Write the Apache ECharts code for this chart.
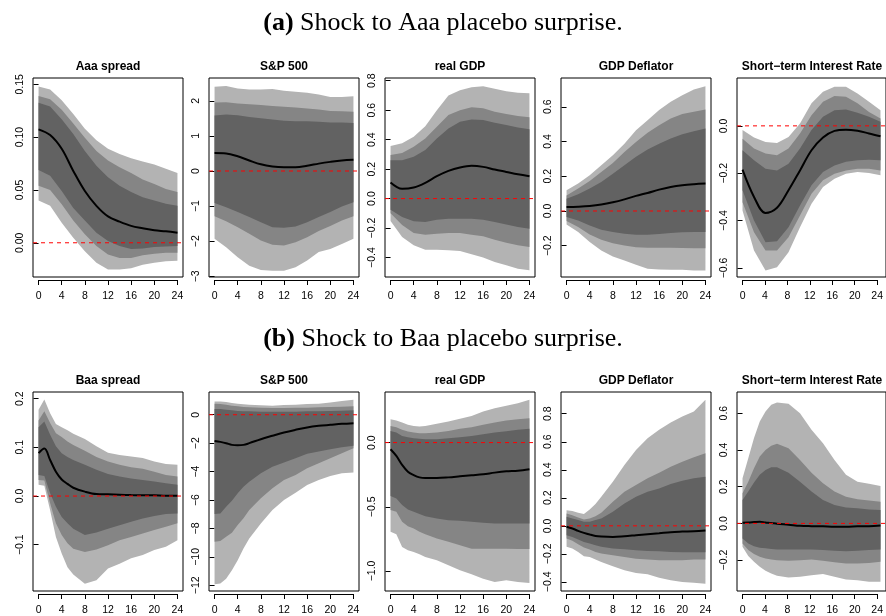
<!DOCTYPE html>
<html>
<head>
<meta charset="utf-8">
<script src="https://cdn.jsdelivr.net/npm/echarts@6/dist/echarts.min.js"></script>
<style>
  html, body { margin: 0; padding: 0; background: #fff; }
  #chart { width: 886px; height: 616px; }
</style>
</head>
<body>
<div id="chart"></div>
<script>
// horizons (quarters after the shock)
const horizonsA = [0, 2, 4, 6, 8, 10, 12, 14, 16, 18, 20, 22, 24];
const horizonsB = [0, 1, 2, 3, 4, 5, 6, 8, 10, 12, 14, 16, 18, 20, 22, 24];

// (a) Aaa spread
const aaaLightHi = [0.148, 0.145, 0.135, 0.122, 0.108, 0.097, 0.089, 0.084, 0.080, 0.077, 0.074, 0.070, 0.066];
const aaaMidHi = [0.139, 0.136, 0.126, 0.113, 0.0995, 0.087, 0.078, 0.0715, 0.066, 0.060, 0.0556, 0.051, 0.048];
const aaaDarkHi = [0.1325, 0.129, 0.117, 0.103, 0.087, 0.073, 0.062, 0.054, 0.048, 0.043, 0.040, 0.037, 0.035];
const aaaMedian = [0.1074, 0.102, 0.089, 0.068, 0.049, 0.035, 0.025, 0.020, 0.016, 0.0137, 0.0118, 0.0108, 0.0095];
const aaaDarkLo = [0.069, 0.0635, 0.049, 0.033, 0.021, 0.0095, 0.0016, -0.003, -0.006, -0.0054, -0.004, -0.0035, -0.003];
const aaaMidLo = [0.054, 0.050, 0.0365, 0.021, 0.008, -0.003, -0.011, -0.0143, -0.0143, -0.0118, -0.0105, -0.0095, -0.0095];
const aaaLightLo = [0.040, 0.035, 0.019, 0.0048, -0.008, -0.019, -0.0254, -0.0254, -0.024, -0.0207, -0.019, -0.0175, -0.017];

// (a) S&P 500
const spxALightHi = [2.40, 2.42, 2.35, 2.32, 2.32, 2.34, 2.29, 2.26, 2.23, 2.18, 2.11, 2.11, 2.13];
const spxAMidHi = [1.95, 1.96, 1.92, 1.90, 1.88, 1.85, 1.83, 1.81, 1.78, 1.75, 1.71, 1.70, 1.69];
const spxADarkHi = [1.58, 1.61, 1.59, 1.54, 1.50, 1.47, 1.43, 1.42, 1.42, 1.40, 1.38, 1.38, 1.37];
const spxAMedian = [0.51, 0.50, 0.42, 0.30, 0.19, 0.13, 0.11, 0.11, 0.15, 0.21, 0.26, 0.30, 0.32];
const spxADarkLo = [-0.91, -1.03, -1.17, -1.31, -1.46, -1.60, -1.62, -1.58, -1.46, -1.31, -1.17, -1.01, -0.89];
const spxAMidLo = [-1.29, -1.43, -1.60, -1.79, -1.98, -2.10, -2.12, -2.03, -1.89, -1.71, -1.57, -1.41, -1.29];
const spxALightLo = [-1.93, -2.17, -2.46, -2.70, -2.82, -2.84, -2.84, -2.74, -2.55, -2.31, -2.22, -2.08, -1.93];

// (a) real GDP
const gdpALightHi = [0.356, 0.375, 0.42, 0.49, 0.60, 0.70, 0.735, 0.755, 0.762, 0.745, 0.728, 0.718, 0.714];
const gdpAMidHi = [0.295, 0.31, 0.351, 0.408, 0.487, 0.567, 0.60, 0.619, 0.612, 0.589, 0.573, 0.56, 0.551];
const gdpADarkHi = [0.26, 0.26, 0.283, 0.329, 0.408, 0.476, 0.521, 0.537, 0.533, 0.514, 0.50, 0.483, 0.471];
const gdpAMedian = [0.109, 0.066, 0.075, 0.107, 0.152, 0.188, 0.211, 0.222, 0.215, 0.197, 0.181, 0.165, 0.152];
const gdpADarkLo = [-0.075, -0.125, -0.154, -0.159, -0.143, -0.136, -0.136, -0.136, -0.143, -0.159, -0.175, -0.193, -0.204];
const gdpAMidLo = [-0.10, -0.18, -0.233, -0.245, -0.238, -0.233, -0.233, -0.245, -0.256, -0.279, -0.30, -0.317, -0.329];
const gdpALightLo = [-0.152, -0.26, -0.317, -0.347, -0.347, -0.351, -0.356, -0.378, -0.40, -0.43, -0.453, -0.476, -0.487];

// (a) GDP Deflator
const deflALightHi = [0.119, 0.158, 0.206, 0.263, 0.321, 0.388, 0.465, 0.523, 0.581, 0.629, 0.667, 0.70, 0.719];
const deflAMidHi = [0.09, 0.129, 0.173, 0.225, 0.277, 0.34, 0.398, 0.45, 0.494, 0.533, 0.558, 0.571, 0.585];
const deflADarkHi = [0.071, 0.096, 0.129, 0.167, 0.215, 0.263, 0.312, 0.354, 0.388, 0.417, 0.442, 0.46, 0.475];
const deflAMedian = [0.023, 0.025, 0.029, 0.037, 0.05, 0.067, 0.087, 0.104, 0.123, 0.138, 0.148, 0.154, 0.158];
const deflADarkLo = [-0.035, -0.054, -0.083, -0.108, -0.121, -0.131, -0.137, -0.137, -0.133, -0.127, -0.123, -0.121, -0.121];
const deflAMidLo = [-0.058, -0.092, -0.135, -0.165, -0.185, -0.198, -0.208, -0.212, -0.212, -0.212, -0.213, -0.215, -0.215];
const deflALightLo = [-0.077, -0.121, -0.179, -0.227, -0.262, -0.285, -0.31, -0.333, -0.337, -0.338, -0.338, -0.342, -0.342];

// (a) Short-term Interest Rate
const rateALightHi = [-0.018, -0.049, -0.068, -0.072, -0.047, 0.01, 0.095, 0.144, 0.165, 0.165, 0.137, 0.102, 0.066];
const rateAMidHi = [-0.054, -0.096, -0.117, -0.124, -0.096, -0.032, 0.045, 0.102, 0.126, 0.123, 0.095, 0.059, 0.031];
const rateADarkHi = [-0.103, -0.145, -0.181, -0.188, -0.16, -0.096, -0.018, 0.038, 0.066, 0.069, 0.055, 0.038, 0.017];
const rateAMedian = [-0.185, -0.30, -0.368, -0.346, -0.272, -0.188, -0.103, -0.049, -0.021, -0.016, -0.021, -0.032, -0.044];
const rateADarkLo = [-0.272, -0.40, -0.491, -0.487, -0.428, -0.336, -0.251, -0.195, -0.167, -0.152, -0.145, -0.143, -0.145];
const rateAMidLo = [-0.322, -0.449, -0.526, -0.526, -0.47, -0.378, -0.287, -0.23, -0.202, -0.188, -0.181, -0.181, -0.188];
const rateALightLo = [-0.357, -0.526, -0.611, -0.597, -0.534, -0.428, -0.329, -0.258, -0.223, -0.202, -0.195, -0.199, -0.209];

// (b) Baa spread
const baaLightHi = [0.177, 0.198, 0.17, 0.148, 0.141, 0.135, 0.128, 0.117, 0.102, 0.089, 0.084, 0.081, 0.078, 0.071, 0.066, 0.064];
const baaMidHi = [0.155, 0.174, 0.15, 0.129, 0.121, 0.112, 0.105, 0.093, 0.08, 0.071, 0.064, 0.059, 0.056, 0.05, 0.043, 0.04];
const baaDarkHi = [0.141, 0.153, 0.126, 0.102, 0.088, 0.08, 0.074, 0.064, 0.054, 0.045, 0.04, 0.036, 0.033, 0.03, 0.026, 0.023];
const baaMedian = [0.088, 0.0975, 0.074, 0.05, 0.034, 0.025, 0.017, 0.009, 0.004, 0.0034, 0.0027, 0.002, 0.0014, 0.0014, 0.0007, 0.0007];
const baaDarkLo = [0.043, 0.041, 0.0055, -0.022, -0.043, -0.056, -0.067, -0.08, -0.075, -0.067, -0.06, -0.053, -0.046, -0.041, -0.037, -0.036];
const baaMidLo = [0.033, 0.032, -0.015, -0.056, -0.08, -0.097, -0.108, -0.115, -0.11, -0.101, -0.091, -0.084, -0.077, -0.07, -0.063, -0.056];
const baaLightLo = [0.023, 0.021, -0.029, -0.084, -0.118, -0.146, -0.161, -0.18, -0.173, -0.149, -0.139, -0.128, -0.121, -0.111, -0.104, -0.091];

// (b) S&P 500
const spxBLightHi = [0.94, 0.94, 0.89, 0.82, 0.78, 0.73, 0.71, 0.66, 0.64, 0.68, 0.71, 0.75, 0.78, 0.87, 0.96, 1.06];
const spxBMidHi = [0.78, 0.75, 0.71, 0.64, 0.59, 0.54, 0.52, 0.49, 0.47, 0.47, 0.49, 0.49, 0.52, 0.54, 0.56, 0.59];
const spxBDarkHi = [0.4, 0.4, 0.35, 0.31, 0.26, 0.24, 0.24, 0.21, 0.21, 0.21, 0.21, 0.24, 0.24, 0.26, 0.28, 0.31];
const spxBMedian = [-1.84, -1.91, -2.0, -2.12, -2.14, -2.12, -2.0, -1.72, -1.48, -1.25, -1.06, -0.89, -0.78, -0.71, -0.64, -0.59];
const spxBDarkLo = [-6.99, -6.94, -6.47, -6.05, -5.53, -5.06, -4.71, -4.12, -3.65, -3.36, -3.06, -2.75, -2.59, -2.42, -2.28, -2.19];
const spxBMidLo = [-8.94, -8.89, -8.59, -8.31, -7.76, -7.29, -6.71, -5.88, -5.18, -4.59, -4.24, -3.76, -3.41, -3.06, -2.71, -2.35];
const spxBLightLo = [-11.93, -11.88, -11.53, -10.94, -10.24, -9.41, -8.71, -7.65, -6.71, -6.0, -5.48, -4.94, -4.59, -4.31, -4.12, -4.07];

// (b) real GDP
const gdpBLightHi = [0.182, 0.172, 0.156, 0.138, 0.13, 0.125, 0.13, 0.146, 0.164, 0.185, 0.208, 0.242, 0.268, 0.286, 0.307, 0.333];
const gdpBMidHi = [0.13, 0.12, 0.099, 0.086, 0.078, 0.073, 0.073, 0.078, 0.091, 0.107, 0.12, 0.138, 0.156, 0.172, 0.182, 0.19];
const gdpBDarkHi = [0.091, 0.078, 0.052, 0.042, 0.034, 0.029, 0.026, 0.026, 0.034, 0.042, 0.052, 0.065, 0.078, 0.089, 0.099, 0.107];
const gdpBMedian = [-0.052, -0.104, -0.174, -0.227, -0.253, -0.271, -0.276, -0.276, -0.271, -0.263, -0.255, -0.247, -0.234, -0.224, -0.219, -0.208];
const gdpBDarkLo = [-0.417, -0.435, -0.487, -0.521, -0.539, -0.557, -0.573, -0.591, -0.604, -0.609, -0.617, -0.625, -0.63, -0.63, -0.63, -0.63];
const gdpBMidLo = [-0.526, -0.539, -0.617, -0.651, -0.669, -0.695, -0.714, -0.747, -0.773, -0.8, -0.826, -0.826, -0.826, -0.826, -0.828, -0.828];
const gdpBLightLo = [-0.695, -0.714, -0.813, -0.839, -0.852, -0.87, -0.891, -0.917, -0.956, -0.995, -1.026, -1.06, -1.086, -1.073, -1.086, -1.094];

// (b) GDP Deflator
const deflBLightHi = [0.112, 0.105, 0.093, 0.084, 0.117, 0.155, 0.208, 0.315, 0.434, 0.542, 0.625, 0.685, 0.737, 0.78, 0.816, 0.90];
const deflBMidHi = [0.088, 0.076, 0.06, 0.045, 0.053, 0.069, 0.093, 0.172, 0.243, 0.291, 0.339, 0.379, 0.422, 0.458, 0.489, 0.518];
const deflBDarkHi = [0.064, 0.053, 0.041, 0.029, 0.029, 0.041, 0.053, 0.10, 0.16, 0.208, 0.243, 0.267, 0.298, 0.322, 0.339, 0.351];
const deflBMedian = [-0.007, -0.019, -0.036, -0.05, -0.062, -0.072, -0.076, -0.079, -0.074, -0.067, -0.06, -0.053, -0.045, -0.041, -0.038, -0.033];
const deflBDarkLo = [-0.067, -0.079, -0.098, -0.115, -0.126, -0.138, -0.15, -0.162, -0.167, -0.174, -0.179, -0.181, -0.186, -0.189, -0.189, -0.189];
const deflBMidLo = [-0.091, -0.107, -0.131, -0.155, -0.169, -0.186, -0.198, -0.21, -0.222, -0.234, -0.241, -0.246, -0.246, -0.246, -0.241, -0.241];
const deflBLightLo = [-0.15, -0.162, -0.186, -0.217, -0.222, -0.241, -0.258, -0.289, -0.317, -0.337, -0.346, -0.37, -0.389, -0.401, -0.406, -0.413];

// (b) Short-term Interest Rate
const rateBLightHi = [0.245, 0.355, 0.464, 0.555, 0.609, 0.645, 0.658, 0.651, 0.60, 0.509, 0.436, 0.345, 0.264, 0.227, 0.215, 0.204];
const rateBMidHi = [0.164, 0.227, 0.30, 0.364, 0.40, 0.422, 0.433, 0.409, 0.345, 0.276, 0.218, 0.173, 0.145, 0.131, 0.124, 0.118];
const rateBDarkHi = [0.127, 0.173, 0.222, 0.264, 0.291, 0.305, 0.305, 0.276, 0.227, 0.173, 0.127, 0.10, 0.087, 0.082, 0.076, 0.073];
const rateBMedian = [0.004, 0.005, 0.007, 0.009, 0.005, 0.002, -0.002, -0.007, -0.013, -0.015, -0.016, -0.018, -0.018, -0.016, -0.015, -0.011];
const rateBDarkLo = [-0.082, -0.109, -0.124, -0.133, -0.136, -0.14, -0.142, -0.142, -0.142, -0.142, -0.145, -0.149, -0.151, -0.149, -0.145, -0.142];
const rateBMidLo = [-0.109, -0.145, -0.167, -0.182, -0.191, -0.196, -0.20, -0.204, -0.20, -0.196, -0.204, -0.211, -0.218, -0.218, -0.215, -0.209];
const rateBLightLo = [-0.127, -0.178, -0.209, -0.236, -0.258, -0.273, -0.285, -0.295, -0.291, -0.282, -0.276, -0.291, -0.305, -0.309, -0.318, -0.318];

// tick values and labels
const M = '\u2212';
const aaaTicks = [0, 0.05, 0.1, 0.15];
const aaaTickLabels = ['0.00', '0.05', '0.10', '0.15'];
const spxATicks = [-3, -2, -1, 0, 1, 2];
const spxATickLabels = [M + '3', M + '2', M + '1', '0', '1', '2'];
const gdpATicks = [-0.4, -0.2, 0, 0.2, 0.4, 0.6, 0.8];
const gdpATickLabels = [M + '0.4', M + '0.2', '0.0', '0.2', '0.4', '0.6', '0.8'];
const deflATicks = [-0.2, 0, 0.2, 0.4, 0.6];
const deflATickLabels = [M + '0.2', '0.0', '0.2', '0.4', '0.6'];
const rateATicks = [-0.6, -0.4, -0.2, 0];
const rateATickLabels = [M + '0.6', M + '0.4', M + '0.2', '0.0'];
const baaTicks = [-0.1, 0, 0.1, 0.2];
const baaTickLabels = [M + '0.1', '0.0', '0.1', '0.2'];
const spxBTicks = [-12, -10, -8, -6, -4, -2, 0];
const spxBTickLabels = [M + '12', M + '10', M + '8', M + '6', M + '4', M + '2', '0'];
const gdpBTicks = [-1, -0.5, 0];
const gdpBTickLabels = [M + '1.0', M + '0.5', '0.0'];
const deflBTicks = [-0.4, -0.2, 0, 0.2, 0.4, 0.6, 0.8];
const deflBTickLabels = [M + '0.4', M + '0.2', '0.0', '0.2', '0.4', '0.6', '0.8'];
const rateBTicks = [-0.2, 0, 0.2, 0.4, 0.6];
const rateBTickLabels = [M + '0.2', '0.0', '0.2', '0.4', '0.6'];

const panels = [
  { title: 'Aaa spread', xs: horizonsA, lh: aaaLightHi, mh: aaaMidHi, dh: aaaDarkHi, med: aaaMedian, dl: aaaDarkLo, ml: aaaMidLo, ll: aaaLightLo, ymin: -0.0324, ymax: 0.156, ticks: aaaTicks, labels: aaaTickLabels },
  { title: 'S&P 500', xs: horizonsA, lh: spxALightHi, mh: spxAMidHi, dh: spxADarkHi, med: spxAMedian, dl: spxADarkLo, ml: spxAMidLo, ll: spxALightLo, ymin: -3.02, ymax: 2.65, ticks: spxATicks, labels: spxATickLabels },
  { title: 'real GDP', xs: horizonsA, lh: gdpALightHi, mh: gdpAMidHi, dh: gdpADarkHi, med: gdpAMedian, dl: gdpADarkLo, ml: gdpAMidLo, ll: gdpALightLo, ymin: -0.532, ymax: 0.818, ticks: gdpATicks, labels: gdpATickLabels },
  { title: 'GDP Deflator', xs: horizonsA, lh: deflALightHi, mh: deflAMidHi, dh: deflADarkHi, med: deflAMedian, dl: deflADarkLo, ml: deflAMidLo, ll: deflALightLo, ymin: -0.38, ymax: 0.766, ticks: deflATicks, labels: deflATickLabels },
  { title: 'Short\u2212term Interest Rate', xs: horizonsA, lh: rateALightHi, mh: rateAMidHi, dh: rateADarkHi, med: rateAMedian, dl: rateADarkLo, ml: rateAMidLo, ll: rateALightLo, ymin: -0.638, ymax: 0.202, ticks: rateATicks, labels: rateATickLabels },
  { title: 'Baa spread', xs: horizonsB, lh: baaLightHi, mh: baaMidHi, dh: baaDarkHi, med: baaMedian, dl: baaDarkLo, ml: baaMidLo, ll: baaLightLo, ymin: -0.195, ymax: 0.2136, ticks: baaTicks, labels: baaTickLabels },
  { title: 'S&P 500', xs: horizonsB, lh: spxBLightHi, mh: spxBMidHi, dh: spxBDarkHi, med: spxBMedian, dl: spxBDarkLo, ml: spxBMidLo, ll: spxBLightLo, ymin: -12.4, ymax: 1.6, ticks: spxBTicks, labels: spxBTickLabels },
  { title: 'real GDP', xs: horizonsB, lh: gdpBLightHi, mh: gdpBMidHi, dh: gdpBDarkHi, med: gdpBMedian, dl: gdpBDarkLo, ml: gdpBMidLo, ll: gdpBLightLo, ymin: -1.156, ymax: 0.394, ticks: gdpBTicks, labels: gdpBTickLabels },
  { title: 'GDP Deflator', xs: horizonsB, lh: deflBLightHi, mh: deflBMidHi, dh: deflBDarkHi, med: deflBMedian, dl: deflBDarkLo, ml: deflBMidLo, ll: deflBLightLo, ymin: -0.465, ymax: 0.955, ticks: deflBTicks, labels: deflBTickLabels },
  { title: 'Short\u2212term Interest Rate', xs: horizonsB, lh: rateBLightHi, mh: rateBMidHi, dh: rateBDarkHi, med: rateBMedian, dl: rateBDarkLo, ml: rateBMidLo, ll: rateBLightLo, ymin: -0.368, ymax: 0.715, ticks: rateBTicks, labels: rateBTickLabels },
];

// layout
const colLeft = [33, 209, 385, 561, 737];
const rowTop = [78, 392];
const boxW = 150;
const boxH = 199;
const xMin = -0.96, xMax = 24.96;
const LIGHT = '#b3b3b3', MID = '#858585', DARK = '#626262';
const SANS = '"Liberation Sans", Arial, sans-serif';
const SERIF = '"Liberation Serif", "Times New Roman", serif';

const grid = [], xAxis = [], yAxis = [], series = [], graphic = [];

panels.forEach((p, i) => {
  const left = colLeft[i % 5];
  const top = rowTop[Math.floor(i / 5)];
  grid.push({ left, top, width: boxW, height: boxH, show: true, borderColor: '#000', borderWidth: 1, backgroundColor: 'transparent' });
  xAxis.push({ gridIndex: i, type: 'value', min: xMin, max: xMax, show: false });
  yAxis.push({
    gridIndex: i, type: 'value', min: p.ymin, max: p.ymax,
    axisLine: { show: false },
    splitLine: { show: false },
    axisTick: { show: true, length: 5, lineStyle: { color: '#000' }, customValues: p.ticks },
    axisLabel: {
      show: true, rotate: 90, margin: 7, color: '#000', fontSize: 10.5, fontFamily: SANS,
      customValues: p.ticks,
      formatter: (v) => {
        const k = p.ticks.findIndex((t) => Math.abs(t - v) < 1e-9);
        return k >= 0 ? p.labels[k] : '';
      },
    },
  });

  // shaded credible bands as polygons through the axis scales
  const band = (lo, hi, color) => ({
    type: 'custom', xAxisIndex: i, yAxisIndex: i, silent: true, z: 1,
    data: [[p.xs[0], lo[0]]],
    renderItem: (params, api) => {
      const pts = p.xs.map((x, k) => api.coord([x, hi[k]]));
      for (let k = p.xs.length - 1; k >= 0; k--) pts.push(api.coord([p.xs[k], lo[k]]));
      return { type: 'polygon', shape: { points: pts }, style: { fill: color } };
    },
  });
  series.push(band(p.ll, p.lh, LIGHT));
  series.push(band(p.ml, p.mh, MID));
  series.push(band(p.dl, p.dh, DARK));
  series.push({
    type: 'line', xAxisIndex: i, yAxisIndex: i, z: 3,
    data: p.xs.map((x, k) => [x, p.med[k]]),
    showSymbol: false, smooth: 0.35, silent: true,
    lineStyle: { color: '#000', width: 2 },
  });
  // zero reference line
  series.push({
    type: 'line', xAxisIndex: i, yAxisIndex: i, z: 4,
    data: [[xMin, 0], [xMax, 0]],
    showSymbol: false, silent: true,
    lineStyle: { color: '#ff0000', width: 1, type: [4, 4] },
  });

  graphic.push({
    type: 'text', x: left + boxW / 2, y: top - 11,
    style: { text: p.title, fill: '#000', font: 'bold 12px ' + SANS, textAlign: 'center', textVerticalAlign: 'middle' },
  });
});

// R-style x axes: line only from 0 to 24, just under each box
panels.forEach((p, i) => {
  const left = colLeft[i % 5];
  const top = rowTop[Math.floor(i / 5)];
  const gi = panels.length + i;
  const x0 = left + (0 - xMin) / (xMax - xMin) * boxW;
  const w = 24 / (xMax - xMin) * boxW;
  grid.push({ left: x0, top: top + boxH + 2, width: w, height: 1, show: false });
  xAxis.push({
    gridIndex: gi, type: 'value', min: 0, max: 24, interval: 4,
    axisLine: { show: true, lineStyle: { color: '#000', width: 1 } },
    axisTick: { show: true, length: 5, lineStyle: { color: '#000' } },
    splitLine: { show: false },
    axisLabel: { show: true, margin: 11, color: '#000', fontSize: 10.5, fontFamily: SANS },
  });
  yAxis.push({ gridIndex: gi, type: 'value', show: false });
});

const heading = (tag, rest, top) => ({
  left: 'center', top,
  text: '{b|' + tag + '} ' + rest,
  textStyle: {
    fontFamily: SERIF, fontSize: 26, fontWeight: 'normal', color: '#000',
    rich: { b: { fontFamily: SERIF, fontSize: 26, fontWeight: 'bold', color: '#000' } },
  },
});

const chart = echarts.init(document.getElementById('chart'), null, { renderer: 'canvas' });
chart.setOption({
  animation: false,
  backgroundColor: '#fff',
  title: [
    heading('(a)', 'Shock to Aaa placebo surprise.', 5),
    heading('(b)', 'Shock to Baa placebo surprise.', 321),
  ],
  grid, xAxis, yAxis, series, graphic,
});
</script>
</body>
</html>
